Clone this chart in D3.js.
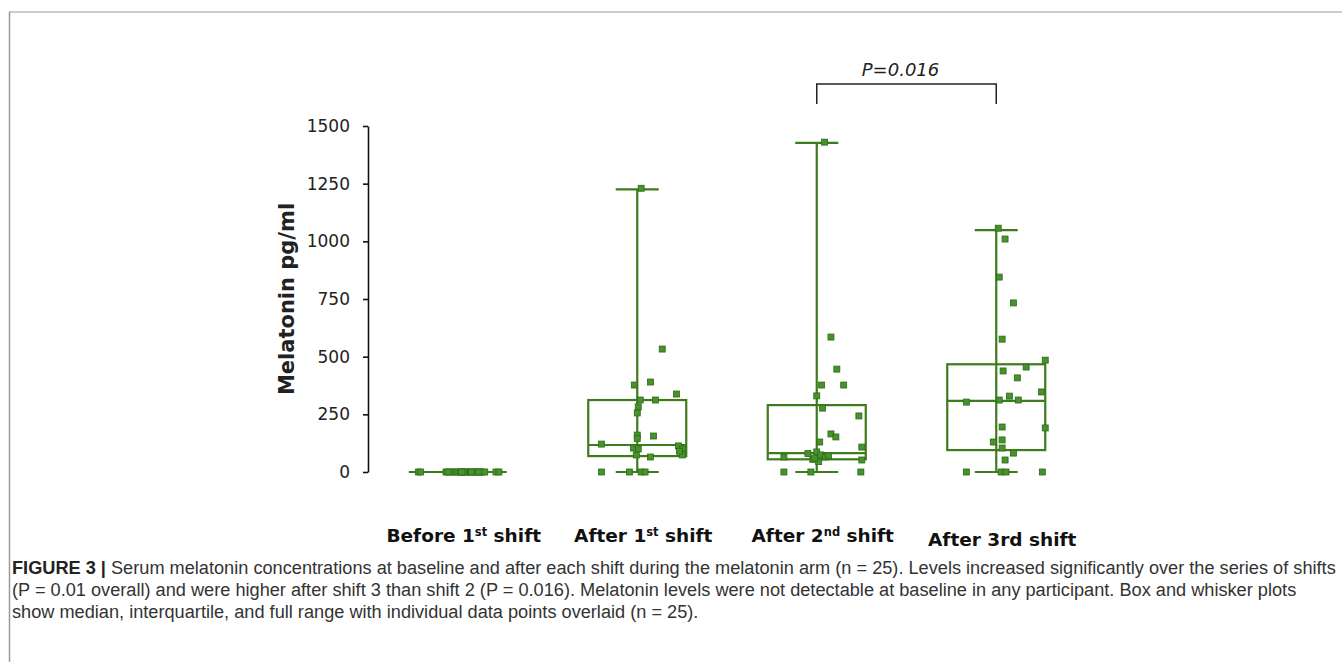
<!DOCTYPE html>
<html>
<head>
<meta charset="utf-8">
<script src="https://cdn.jsdelivr.net/npm/d3@7"></script>
<style>
  body { margin: 0; background: #fff; }
  svg { display: block; }
</style>
</head>
<body>
<div id="chart"></div>
<script>
// shifts on the x axis, label split round the superscript
var groups = ["Before 1st shift", "After 1st shift", "After 2nd shift", "After 3rd shift"]
var labelHead = ["Before 1", "After 1", "After 2", "After 3rd shift"]
var labelSup = ["st", "st", "nd", ""]
var labelTail = [" shift", " shift", " shift", ""]
var yTicks = [0, 250, 500, 750, 1000, 1250, 1500]

// box and whisker summaries (pg/ml)
var boxMin = [0, 0, 0, 0]
var boxQ1 = [0, 69, 55, 95]
var boxMedian = [0, 117, 82, 308]
var boxQ3 = [0, 312, 290, 467]
var boxMax = [0, 1225, 1427, 1049]

// individual participants, n = 25 per shift
var before1 = [0, 0, 0, 0, 0, 0, 0, 0, 0, 0, 0, 0, 0, 0, 0, 0, 0, 0, 0, 0, 0, 0, 0, 0, 0]
var after1 = [1230, 533, 377, 390, 338, 312, 312, 282, 256, 160, 145, 156, 121, 104, 100, 113, 100, 74, 74, 65, 0, 0, 0, 0, 90]
var after2 = [1430, 585, 446, 377, 377, 330, 277, 243, 165, 152, 130, 108, 87, 74, 65, 65, 55, 52, 45, 0, 0, 0, 60, 70, 80]
var after3 = [1057, 1010, 845, 733, 576, 485, 455, 438, 408, 347, 329, 312, 312, 303, 195, 191, 130, 139, 104, 82, 52, 0, 0, 0, 0]

// sideways spread of each point, as a share of half a box width
var jitter1 = [-0.8, -0.76, -0.24, -0.16, -0.1, -0.04, 0, 0.05, 0.1, 0.15, 0.2, 0.26, 0.3, 0.36, 0.4, 0.46, 0.5, 0.55, -0.2, 0.12, 0.28, 0.42, 0.78, 0.84, 0.08]
var jitter2 = [0.08, 0.51, -0.06, 0.27, 0.8, 0.06, 0.37, 0.02, 0, 0, 0, 0.33, -0.73, -0.08, 0.02, 0.84, 0.92, 0.92, -0.02, 0.27, -0.73, -0.16, 0.08, 0.16, 0.86]
var jitter3 = [0.16, 0.29, 0.41, 0.1, 0.55, 0, 0.12, 0.86, 0.29, 0.39, 0.06, 0.92, 0, 0.08, 0.18, -0.67, -0.08, 0.92, 0.04, -0.67, -0.12, 0.9, -0.04, 0.24, -0.18]
var jitter4 = [0.04, 0.18, 0.06, 0.35, 0.12, 1.0, 0.61, 0.14, 0.43, 0.92, 0.27, 0.06, 0.45, -0.61, 0.12, 1.0, -0.06, 0.12, 0.12, 0.35, 0.18, -0.61, 0.1, 0.2, 0.94]

var captionLines = [
    "Serum melatonin concentrations at baseline and after each shift during the melatonin arm (n = 25). Levels increased significantly over the series of shifts",
    "(P = 0.01 overall) and were higher after shift 3 than shift 2 (P = 0.016). Melatonin levels were not detectable at baseline in any participant. Box and whisker plots",
    "show median, interquartile, and full range with individual data points overlaid (n = 25)."
]

var width = 1342, height = 662
var green = "#3c7c1c"
var boxWidth = 98, capWidth = 43

var svg = d3.select("#chart").append("svg")
    .attr("width", width)
    .attr("height", height)

// figure frame (top and left edges only)
svg.append("line").attr("x1", 9).attr("x2", width).attr("y1", 12).attr("y2", 12)
    .attr("stroke", "#cccccc").attr("stroke-width", 2)
svg.append("line").attr("x1", 9.5).attr("x2", 9.5).attr("y1", 12).attr("y2", height)
    .attr("stroke", "#9a9a9a").attr("stroke-width", 1.5)

var x = d3.scalePoint().domain(groups).range([368, 1086]).padding(0.5)
var y = d3.scaleLinear().domain([0, 1500]).range([472, 126])

var yAxis = svg.append("g")
    .attr("transform", "translate(368,0)")
    .call(d3.axisLeft(y).tickValues(yTicks).tickFormat(d3.format("d"))
        .tickSize(5).tickPadding(13).tickSizeOuter(0))
yAxis.select(".domain").attr("stroke", "#111").attr("stroke-width", 1.6)
yAxis.selectAll(".tick line").attr("stroke", "#111").attr("stroke-width", 1.6)
yAxis.selectAll("text")
    .attr("font-family", "DejaVu Sans")
    .attr("font-size", 17)
    .attr("fill", "#222")

svg.append("text")
    .attr("transform", "translate(287,299) rotate(-90)")
    .attr("text-anchor", "middle")
    .attr("dominant-baseline", "central")
    .attr("font-family", "DejaVu Sans")
    .attr("font-weight", "bold")
    .attr("font-size", 21)
    .attr("fill", "#222")
    .text("Melatonin pg/ml")

var series = [before1, after1, after2, after3]
var jitters = [jitter1, jitter2, jitter3, jitter4]

var boxes = groups.map(function(g, i) {
    return {group: g, min: boxMin[i], q1: boxQ1[i], median: boxMedian[i], q3: boxQ3[i], max: boxMax[i]}
})

var box = svg.append("g").selectAll("g")
    .data(boxes)
    .join("g")
    .attr("stroke", green)
    .attr("stroke-width", 2.2)
    .attr("fill", "none")

// whisker stem
box.append("line")
    .attr("x1", d => x(d.group)).attr("x2", d => x(d.group))
    .attr("y1", d => y(d.max)).attr("y2", d => y(d.min))
// caps
box.append("line")
    .attr("x1", d => x(d.group) - capWidth / 2).attr("x2", d => x(d.group) + capWidth / 2)
    .attr("y1", d => y(d.max)).attr("y2", d => y(d.max))
box.append("line")
    .attr("x1", d => x(d.group) - capWidth / 2).attr("x2", d => x(d.group) + capWidth / 2)
    .attr("y1", d => y(d.min)).attr("y2", d => y(d.min))
// interquartile box
box.append("rect")
    .attr("x", d => x(d.group) - boxWidth / 2)
    .attr("width", boxWidth)
    .attr("y", d => y(d.q3))
    .attr("height", d => y(d.q1) - y(d.q3))
box.append("line")
    .attr("x1", d => x(d.group) - boxWidth / 2).attr("x2", d => x(d.group) + boxWidth / 2)
    .attr("y1", d => y(d.median)).attr("y2", d => y(d.median))

// overlaid participants
var points = []
series.forEach(function(values, i) {
    values.forEach(function(v, j) {
        points.push({group: groups[i], value: v, offset: jitters[i][j]})
    })
})
var pointSize = 6
svg.append("g").selectAll("rect")
    .data(points)
    .join("rect")
    .attr("x", d => x(d.group) + d.offset * boxWidth / 2 - pointSize / 2)
    .attr("y", d => y(d.value) - pointSize / 2)
    .attr("width", pointSize)
    .attr("height", pointSize)
    .attr("fill", "#46922b")
    .attr("stroke", "#2f6a16")
    .attr("stroke-width", 0.8)

// x labels
var xLabels = svg.append("g")
    .attr("font-family", "DejaVu Sans")
    .attr("font-weight", "bold")
    .attr("font-size", 18.5)
    .attr("fill", "#111")
    .selectAll("text")
    .data(groups)
    .join("text")
    .attr("x", d => x(d) + 6)
    .attr("y", (d, i) => i == 3 ? 546 : 542)
    .attr("text-anchor", "middle")
xLabels.append("tspan").text((d, i) => labelHead[i])
xLabels.append("tspan")
    .attr("font-size", "0.62em")
    .attr("dy", "-0.55em")
    .text((d, i) => labelSup[i])
xLabels.append("tspan")
    .attr("dy", (d, i) => labelSup[i] ? "0.34em" : 0)
    .text((d, i) => labelTail[i])

// significance bracket, shift 2 vs shift 3
var bx1 = x(groups[2]), bx2 = x(groups[3])
svg.append("path")
    .attr("d", `M${bx1},104V84H${bx2}V104`)
    .attr("fill", "none")
    .attr("stroke", "#222")
    .attr("stroke-width", 1.5)
svg.append("text")
    .attr("x", (bx1 + bx2) / 2 - 6)
    .attr("y", 76)
    .attr("text-anchor", "middle")
    .attr("font-family", "DejaVu Sans")
    .attr("font-style", "italic")
    .attr("font-size", 18)
    .attr("fill", "#222")
    .text("P=0.016")

// caption
var caption = svg.append("g")
    .attr("font-family", "Liberation Sans")
    .attr("font-size", 15)
    .attr("fill", "#333")
var first = caption.append("text").attr("x", 12).attr("y", 574)
first.append("tspan").attr("font-weight", "bold").attr("fill", "#222").text("FIGURE 3 | ")
first.append("tspan").text(captionLines[0])
caption.selectAll("text.rest")
    .data(captionLines.slice(1))
    .join("text")
    .attr("class", "rest")
    .attr("x", 12)
    .attr("y", (d, i) => 596 + i * 22)
    .text(d => d)

// fit the first caption line to the frame width
var measured = first.node().getComputedTextLength()
caption.attr("font-size", 15 * 1325 / measured)
</script>
</body>
</html>
